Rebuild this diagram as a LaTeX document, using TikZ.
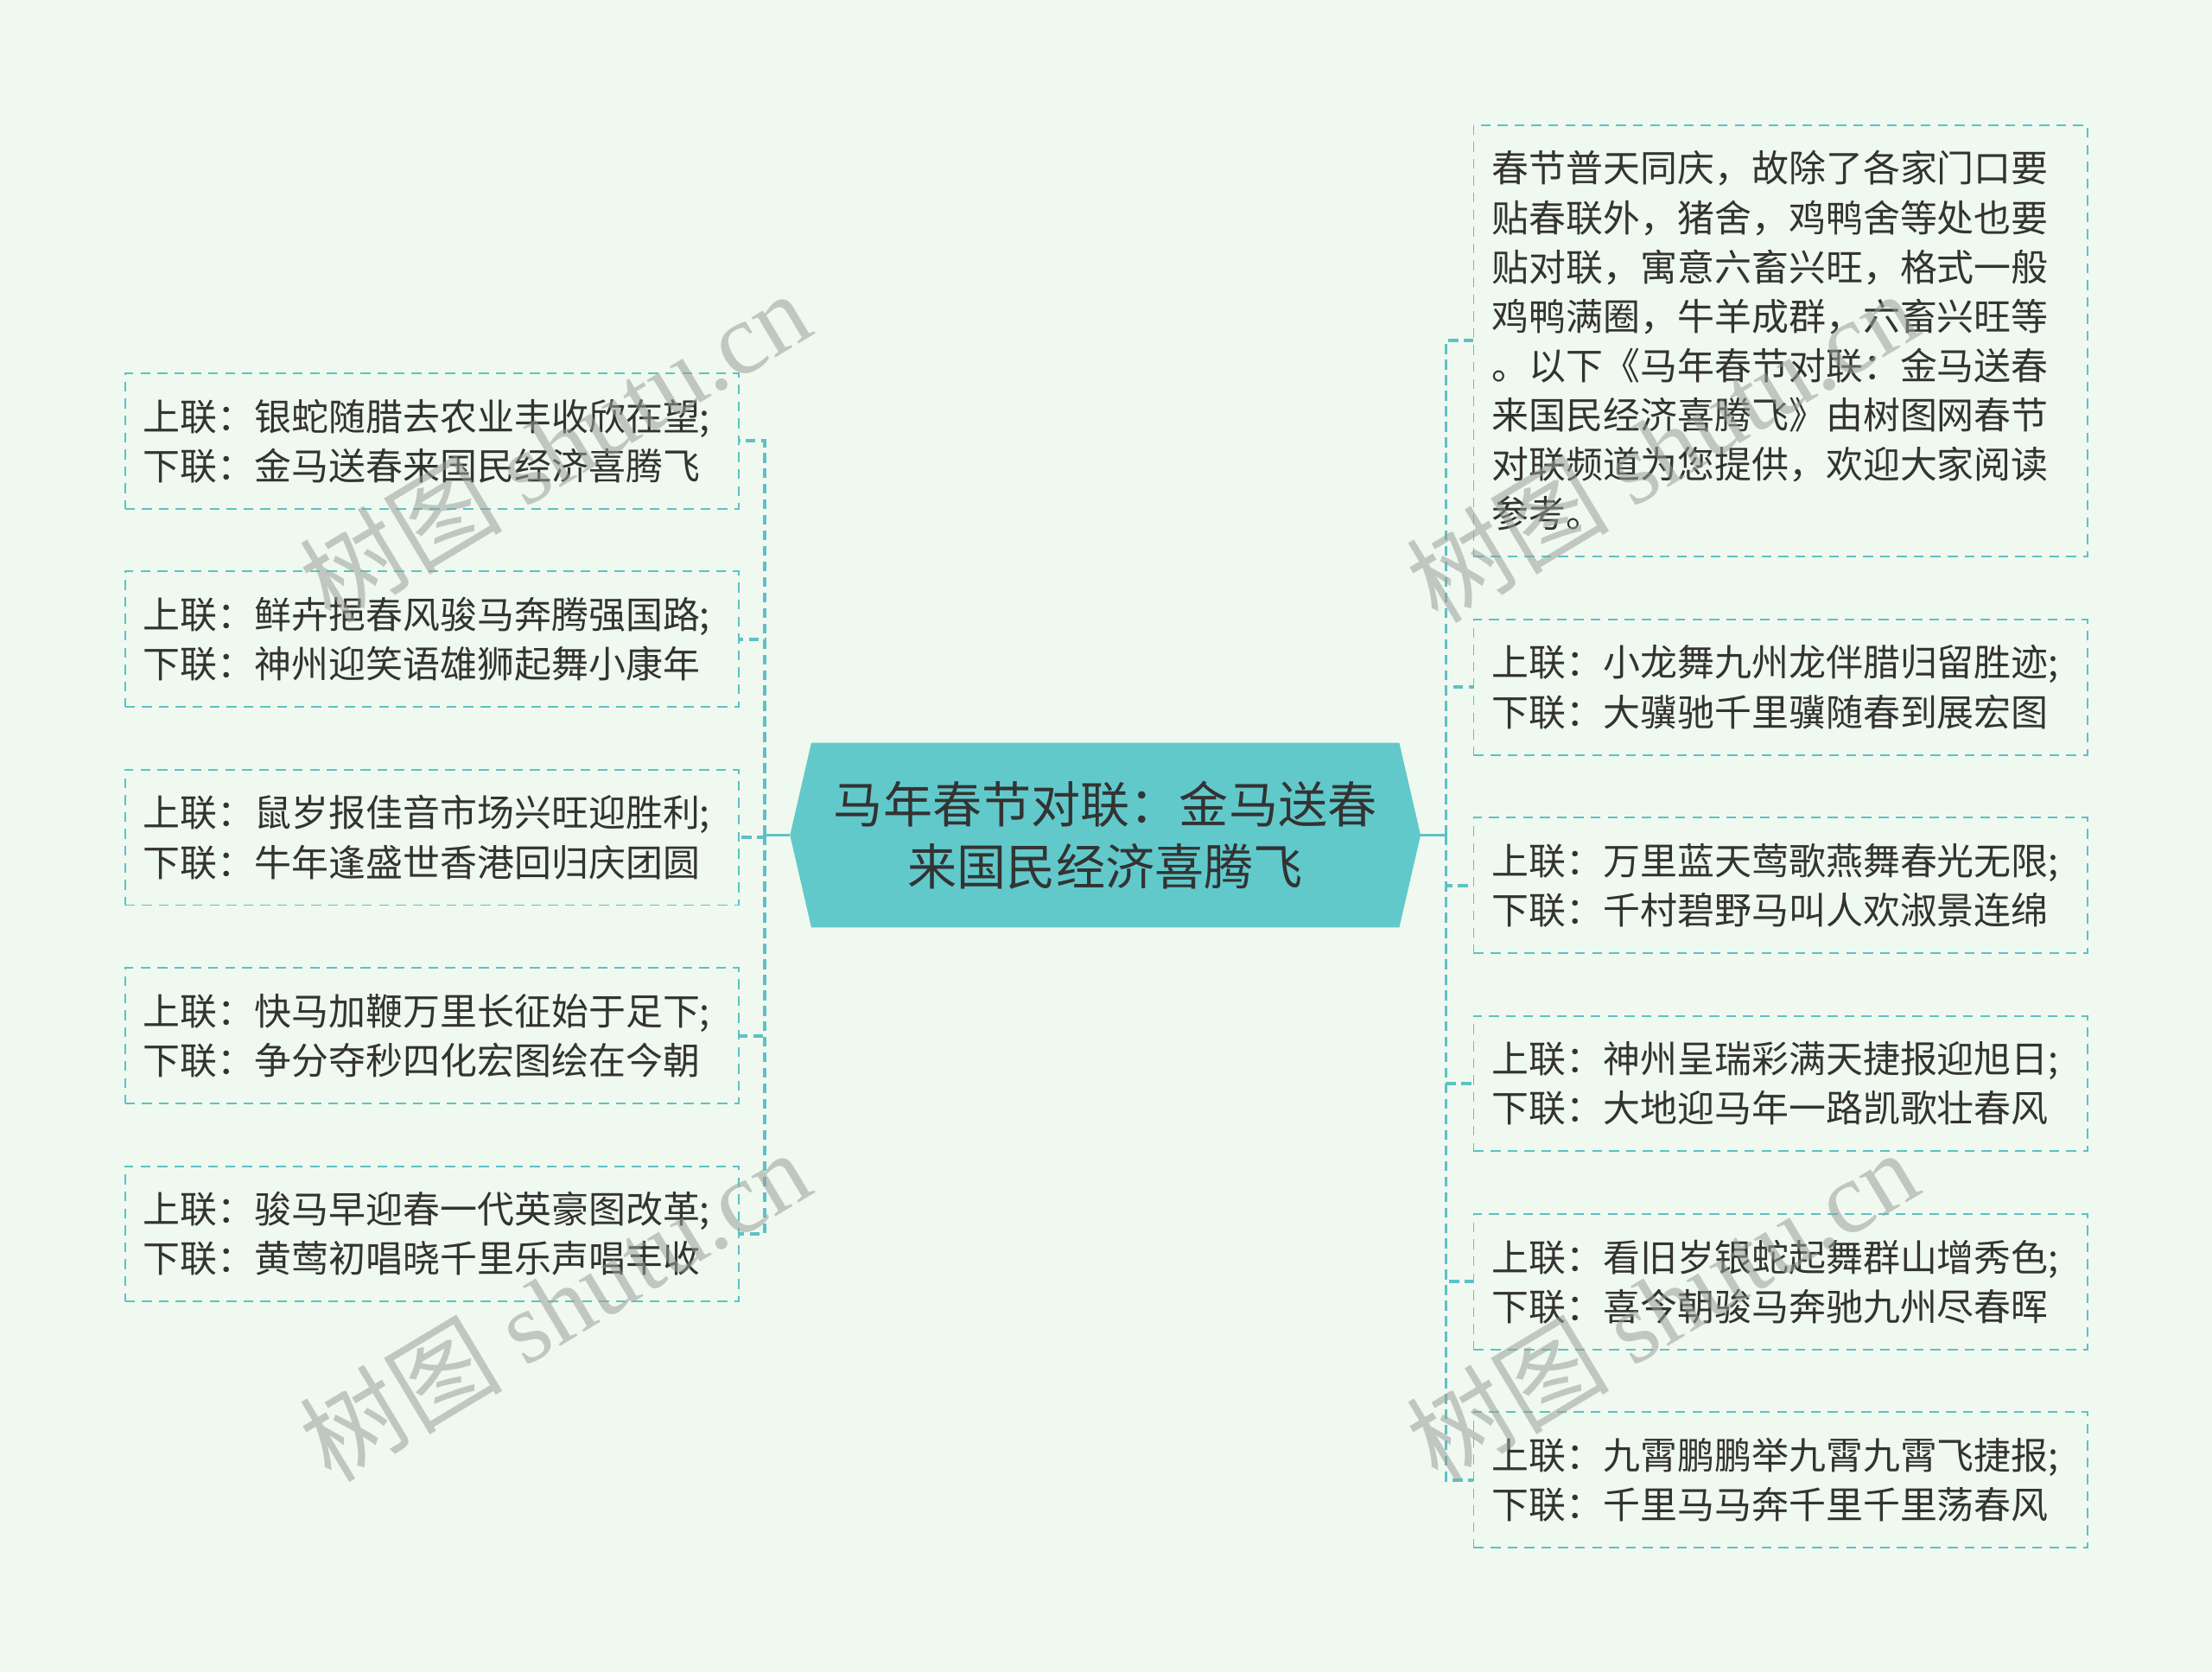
\documentclass[tikz,border=0pt]{standalone}
\usepackage{fontspec}
\setmainfont{Noto Sans CJK SC}
\newfontfamily\wmfont{Liberation Serif}
\usetikzlibrary{positioning, shapes.symbols}
\definecolor{bgMint}{HTML}{F0F9EF}
\definecolor{lineTeal}{HTML}{5DC1C7}
\definecolor{rootTeal}{HTML}{62C9CB}
\definecolor{textDark}{HTML}{333333}
\definecolor{wmGray}{HTML}{9A9E9A}

\begin{document}
\begin{tikzpicture}[x=1pt, y=-1pt,
    every node/.style={text=textDark},
    pair/.style={draw=lineTeal, line width=1.2pt, dash pattern=on 7pt off 5pt,
      minimum width=435pt, minimum height=96pt, text width=409pt, inner xsep=13pt,
      align=left, font=\fontsize{26.3}{35}\selectfont},
    root/.style={signal, signal to=west and east, signal pointer angle=154,
      fill=rootTeal, minimum width=447pt, minimum height=131pt, align=center,
      font=\fontsize{35}{44}\selectfont},
    link/.style={lineTeal, line width=2.4pt, dash pattern=on 7pt off 4pt},
    wmark/.style={text=wmGray, opacity=0.55, rotate=31, font=\fontsize{72}{72}\selectfont}]
  \fill[bgMint] (0,0) rectangle (1568,1185);
  \useasboundingbox (0,0) rectangle (1568,1185);

  % centre
  \node[root] (ctr) at (783.5,592) {马年春节对联：金马送春\\来国民经济喜腾飞};

  % left side
  \node[pair, anchor=north west] (l1) at (88,264) {上联：银蛇随腊去农业丰收欣在望;\\下联：金马送春来国民经济喜腾飞};
  \node[pair, below=43.3pt of l1] (l2) {上联：鲜卉挹春风骏马奔腾强国路;\\下联：神州迎笑语雄狮起舞小康年};
  \node[pair, below=43.3pt of l2] (l3) {上联：鼠岁报佳音市场兴旺迎胜利;\\下联：牛年逢盛世香港回归庆团圆};
  \node[pair, below=43.3pt of l3] (l4) {上联：快马加鞭万里长征始于足下;\\下联：争分夺秒四化宏图绘在今朝};
  \node[pair, below=43.3pt of l4] (l5) {上联：骏马早迎春一代英豪图改革;\\下联：黄莺初唱晓千里乐声唱丰收};

  % right side
  \node[pair, anchor=north west, minimum height=306pt] (r1) at (1044,88) {春节普天同庆，故除了各家门口要\\贴春联外，猪舍，鸡鸭舍等处也要\\贴对联，寓意六畜兴旺，格式一般\\鸡鸭满圈，牛羊成群，六畜兴旺等\\。以下《马年春节对联：金马送春\\来国民经济喜腾飞》由树图网春节\\对联频道为您提供，欢迎大家阅读\\参考。};
  \node[pair, below=43.3pt of r1] (r2) {上联：小龙舞九州龙伴腊归留胜迹;\\下联：大骥驰千里骥随春到展宏图};
  \node[pair, below=43.3pt of r2] (r3) {上联：万里蓝天莺歌燕舞春光无限;\\下联：千村碧野马叫人欢淑景连绵};
  \node[pair, below=43.3pt of r3] (r4) {上联：神州呈瑞彩满天捷报迎旭日;\\下联：大地迎马年一路凯歌壮春风};
  \node[pair, below=43.3pt of r4] (r5) {上联：看旧岁银蛇起舞群山增秀色;\\下联：喜今朝骏马奔驰九州尽春晖};
  \node[pair, below=43.3pt of r5] (r6) {上联：九霄鹏鹏举九霄九霄飞捷报;\\下联：千里马马奔千里千里荡春风};

  % connectors
  \coordinate (lj) at (542,592);
  \coordinate (rj) at (1025,592);
  \draw[lineTeal, line width=2pt] (ctr.west) -- (lj);
  \draw[lineTeal, line width=2pt] (ctr.east) -- (rj);
  \foreach \i in {1,...,5} \draw[link] (lj) |- (l\i.east);
  \foreach \i in {1,...,6} \draw[link] (rj) |- (r\i.west);

  % watermarks
  \foreach \p in {(393,316), (393,925), (1178,316), (1178,925)}
    \node[wmark] at \p {树图 {\wmfont shutu.cn}};
\end{tikzpicture}
\end{document}
